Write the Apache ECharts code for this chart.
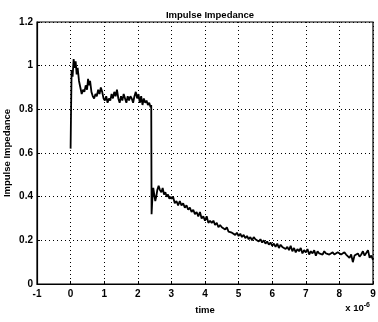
<!DOCTYPE html>
<html>
<head>
<meta charset="utf-8">
<script src="https://cdn.jsdelivr.net/npm/echarts@6/dist/echarts.min.js"></script>
<style>
  html, body { margin: 0; padding: 0; background: #fff; }
  #chart { width: 378px; height: 322px; }
</style>
</head>
<body>
<div id="chart"></div>
<script>
// time in units of 1e-6 s, impedance
var riseTimes = [0, 0.01, 0.03, 0.06, 0.09, 0.12, 0.15, 0.18, 0.21, 0.25, 0.29, 0.33, 0.37, 0.41, 0.45, 0.49, 0.52, 0.55, 0.58, 0.62, 0.66, 0.70, 0.74, 0.78, 0.82, 0.86, 0.90, 0.94, 0.98, 1.02, 1.06, 1.10, 1.14, 1.18, 1.22, 1.26, 1.30, 1.34, 1.38, 1.42, 1.46, 1.50, 1.54, 1.58, 1.62, 1.66, 1.70, 1.74, 1.78, 1.82, 1.86, 1.90, 1.94, 1.98, 2.02, 2.06, 2.10, 2.14, 2.18, 2.22, 2.26, 2.30, 2.34, 2.38, 2.40,
  2.41, 2.43, 2.46, 2.49, 2.52, 2.55, 2.58, 2.62, 2.66, 2.70, 2.74, 2.78, 2.82, 2.86, 2.90, 2.94, 2.98]
var riseValues = [0.62, 0.75, 0.98, 0.95, 1.03, 0.99, 1.02, 0.96, 0.99, 0.93, 0.90, 0.87, 0.89, 0.88, 0.91, 0.89, 0.94, 0.91, 0.93, 0.88, 0.86, 0.85, 0.87, 0.86, 0.89, 0.87, 0.90, 0.88, 0.85, 0.84, 0.86, 0.83, 0.85, 0.84, 0.87, 0.85, 0.88, 0.86, 0.89, 0.85, 0.83, 0.86, 0.84, 0.87, 0.85, 0.83, 0.86, 0.84, 0.86, 0.85, 0.83, 0.86, 0.88, 0.85, 0.87, 0.83, 0.86, 0.82, 0.85, 0.83, 0.84, 0.82, 0.83, 0.81, 0.82,
  0.32, 0.38, 0.44, 0.41, 0.38, 0.40, 0.43, 0.45, 0.43, 0.42, 0.44, 0.41, 0.42, 0.40, 0.41, 0.39, 0.40]
var tailTimes = [3.00, 3.05, 3.10, 3.15, 3.20, 3.25, 3.30, 3.35, 3.40, 3.45, 3.50, 3.55, 3.60, 3.65, 3.70, 3.75, 3.80, 3.85, 3.90, 3.95,
  4.00, 4.05, 4.10, 4.15, 4.20, 4.25, 4.30, 4.35, 4.40, 4.45, 4.50, 4.55, 4.60, 4.65, 4.70, 4.75, 4.80, 4.85, 4.90, 4.95,
  5.00, 5.05, 5.10, 5.15, 5.20, 5.25, 5.30, 5.35, 5.40, 5.45, 5.50, 5.55, 5.60, 5.65, 5.70, 5.75, 5.80, 5.85, 5.90, 5.95,
  6.00, 6.05, 6.10, 6.15, 6.20, 6.25, 6.30, 6.35, 6.40, 6.45, 6.50, 6.55, 6.60, 6.65, 6.70, 6.75, 6.80, 6.85, 6.90, 6.95,
  7.00, 7.05, 7.10, 7.15, 7.20, 7.25, 7.30, 7.35, 7.40, 7.45, 7.50, 7.55, 7.60, 7.65, 7.70, 7.75, 7.80, 7.85, 7.90, 7.95,
  8.00, 8.05, 8.10, 8.15, 8.20, 8.25, 8.30, 8.35, 8.40, 8.45, 8.50, 8.55, 8.60, 8.65, 8.70, 8.75, 8.80, 8.85, 8.90, 8.95, 9.00]
var tailValues = [0.39, 0.40, 0.37, 0.38, 0.36, 0.38, 0.36, 0.37, 0.35, 0.36, 0.34, 0.35, 0.33, 0.34, 0.32, 0.33, 0.31, 0.33, 0.30, 0.31,
  0.29, 0.31, 0.28, 0.29, 0.28, 0.29, 0.27, 0.28, 0.26, 0.27, 0.26, 0.255, 0.25, 0.26, 0.24, 0.245, 0.235, 0.24, 0.225, 0.235,
  0.22, 0.23, 0.215, 0.225, 0.21, 0.22, 0.205, 0.215, 0.20, 0.215, 0.205, 0.21, 0.195, 0.205, 0.19, 0.20, 0.185, 0.195, 0.18, 0.19,
  0.175, 0.185, 0.17, 0.185, 0.165, 0.18, 0.17, 0.175, 0.16, 0.17, 0.155, 0.175, 0.15, 0.165, 0.145, 0.16, 0.15, 0.165, 0.14, 0.155,
  0.145, 0.16, 0.135, 0.15, 0.14, 0.155, 0.13, 0.15, 0.14, 0.145, 0.135, 0.15, 0.14, 0.145, 0.135, 0.14, 0.145, 0.135, 0.14, 0.145,
  0.14, 0.135, 0.14, 0.145, 0.135, 0.14, 0.12, 0.135, 0.10, 0.13, 0.135, 0.14, 0.125, 0.135, 0.15, 0.13, 0.135, 0.155, 0.12, 0.13, 0.11]

var xTicks = [-1, 0, 1, 2, 3, 4, 5, 6, 7, 8, 9]
var yTicks = [0, 0.2, 0.4, 0.6, 0.8, 1, 1.2]

var times = riseTimes.concat(tailTimes)
var values = riseValues.concat(tailValues)
var points = times.map(function (t, i) { return [t, values[i]] })

var font = 'Liberation Sans'
var chart = echarts.init(document.getElementById('chart'), null, { renderer: 'canvas' })

var option = {
  backgroundColor: '#fff',
  animation: false,
  title: {
    text: 'Impulse Impedance',
    left: 205,
    top: 5,
    textAlign: 'center',
    textStyle: { fontFamily: font, fontSize: 9.5, fontWeight: 'bold', color: '#000' }
  },
  grid: {
    left: 37,
    right: 5,
    top: 22,
    bottom: 38,
    outerBoundsMode: 'none',
    containLabel: false,
    show: true,
    borderColor: '#000',
    borderWidth: 1.2,
    backgroundColor: 'transparent'
  },
  xAxis: {
    type: 'value',
    min: xTicks[0],
    max: xTicks[xTicks.length - 1],
    interval: 1,
    name: 'time',
    nameLocation: 'middle',
    nameGap: 21,
    nameMoveOverlap: false,
    nameTextStyle: { fontFamily: font, fontSize: 9.5, fontWeight: 'bold', color: '#000' },
    axisLine: { onZero: false, lineStyle: { color: '#000', width: 1.2 } },
    axisTick: { inside: true, length: 3, lineStyle: { color: '#000' } },
    axisLabel: { fontFamily: font, fontSize: 10, fontWeight: 'bold', color: '#000', margin: 5 },
    splitLine: { show: true, lineStyle: { color: '#000', type: [1, 3], width: 1 } }
  },
  yAxis: {
    type: 'value',
    min: yTicks[0],
    max: yTicks[yTicks.length - 1],
    interval: 0.2,
    name: 'Impulse Impedance',
    nameLocation: 'middle',
    nameGap: 25,
    nameMoveOverlap: false,
    nameTextStyle: { fontFamily: font, fontSize: 9.5, fontWeight: 'bold', color: '#000' },
    axisLine: { show: true, onZero: false, lineStyle: { color: '#000', width: 1.2 } },
    axisTick: { show: true, inside: true, length: 3, lineStyle: { color: '#000' } },
    axisLabel: { fontFamily: font, fontSize: 10, fontWeight: 'bold', color: '#000', margin: 4 },
    splitLine: { show: true, lineStyle: { color: '#000', type: [1, 3], width: 1 } }
  },
  graphic: [{
    type: 'text',
    right: 8,
    top: 302,
    style: {
      text: '{b|x 10}{s|-6}',
      rich: {
        b: { fontFamily: font, fontSize: 9.5, fontWeight: 'bold', fill: '#000' },
        s: { fontFamily: font, fontSize: 7, fontWeight: 'bold', fill: '#000', verticalAlign: 'top', padding: [0, 0, 6, 0] }
      }
    }
  }],
  series: [{
    type: 'line',
    data: points,
    symbol: 'none',
    lineStyle: { color: '#000', width: 1.8 }
  }]
}
chart.setOption(option)
</script>
</body>
</html>
